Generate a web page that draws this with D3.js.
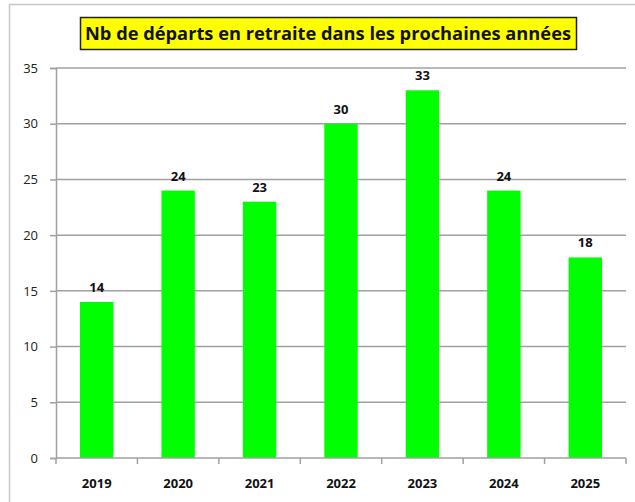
<!DOCTYPE html>
<html>
<head>
<meta charset="utf-8">
<script src="https://cdn.jsdelivr.net/npm/d3@7"></script>
<style>
  html, body { margin: 0; padding: 0; background: #fff; }
  svg { display: block; }
</style>
</head>
<body>
<script>
// Retirement departures per year
const years = ["2019", "2020", "2021", "2022", "2023", "2024", "2025"];
const departures = [14, 24, 23, 30, 33, 24, 18];
const yTicks = [0, 5, 10, 15, 20, 25, 30, 35];
const title = "Nb de départs en retraite dans les prochaines années";

const W = 635, H = 502;
const margin = { left: 56, right: 9, top: 68, bottom: 44 };

const svg = d3.select("body").append("svg")
  .attr("width", W).attr("height", H);

// outer frame
svg.append("rect")
  .attr("x", 9.5).attr("y", 4.5)
  .attr("width", 660).attr("height", 560)
  .attr("fill", "none").attr("stroke", "#c8c8c8").attr("stroke-width", 1.5);

const x = d3.scaleBand().domain(years)
  .range([margin.left, W - margin.right])
  .paddingInner(0.59).paddingOuter(0.295);
const y = d3.scaleLinear().domain([0, 35])
  .range([H - margin.bottom, margin.top]);

// horizontal gridlines
svg.append("g").selectAll("line").data(yTicks.filter(d => d > 0)).join("line")
  .attr("x1", margin.left).attr("x2", W - margin.right)
  .attr("y1", d => y(d)).attr("y2", d => y(d))
  .attr("stroke", "#a0a0a0").attr("stroke-width", 1.5);

// bars
svg.append("g").selectAll("rect").data(departures).join("rect")
  .attr("x", (d, i) => x(years[i]))
  .attr("width", x.bandwidth())
  .attr("y", d => y(d))
  .attr("height", d => y(0) - y(d))
  .attr("fill", "#00ff00");

// value labels
svg.append("g").selectAll("text").data(departures).join("text")
  .attr("x", (d, i) => x(years[i]) + x.bandwidth() / 2)
  .attr("y", d => y(d) - 10)
  .attr("text-anchor", "middle")
  .attr("font-family", "'Open Sans', 'DejaVu Sans', sans-serif")
  .attr("font-weight", "bold").attr("font-size", 13)
  .attr("fill", "#111")
  .text(d => d);

// y axis
const yAxis = svg.append("g")
  .attr("transform", `translate(${margin.left},0)`)
  .call(d3.axisLeft(y).tickValues(yTicks).tickSize(6).tickPadding(12));
yAxis.select(".domain").attr("stroke", "#a0a0a0").attr("stroke-width", 1.5);
yAxis.selectAll(".tick line").attr("stroke", "#a0a0a0").attr("stroke-width", 1.5);
yAxis.selectAll(".tick text")
  .attr("font-family", "'Open Sans', 'DejaVu Sans', sans-serif")
  .attr("font-size", 13).attr("fill", "#222");

// x axis with ticks at category boundaries
const xAxisG = svg.append("g")
  .attr("transform", `translate(0,${y(0)})`);
xAxisG.append("line")
  .attr("x1", margin.left).attr("x2", W - margin.right)
  .attr("stroke", "#a0a0a0").attr("stroke-width", 1.5);
const step = x.step();
const bounds = d3.range(years.length + 1).map(i => margin.left + i * step);
xAxisG.selectAll("line.tk").data(bounds).join("line")
  .attr("class", "tk")
  .attr("x1", d => d).attr("x2", d => d)
  .attr("y1", 0).attr("y2", 6)
  .attr("stroke", "#a0a0a0").attr("stroke-width", 1.5);
xAxisG.selectAll("text").data(years).join("text")
  .attr("x", d => x(d) + x.bandwidth() / 2)
  .attr("y", 30)
  .attr("text-anchor", "middle")
  .attr("font-family", "'Open Sans', 'DejaVu Sans', sans-serif")
  .attr("font-weight", "bold").attr("font-size", 13)
  .attr("fill", "#111")
  .text(d => d);

// title box
svg.append("rect")
  .attr("x", 80.5).attr("y", 17.5)
  .attr("width", 496).attr("height", 32)
  .attr("fill", "#ffff00").attr("stroke", "#222").attr("stroke-width", 1.5);
svg.append("text")
  .attr("x", 328).attr("y", 40)
  .attr("text-anchor", "middle")
  .attr("font-family", "'Open Sans', 'DejaVu Sans', sans-serif")
  .attr("font-weight", "bold").attr("font-size", 17)
  .attr("textLength", 486).attr("lengthAdjust", "spacingAndGlyphs")
  .attr("fill", "#111")
  .text(title);
</script>
</body>
</html>
